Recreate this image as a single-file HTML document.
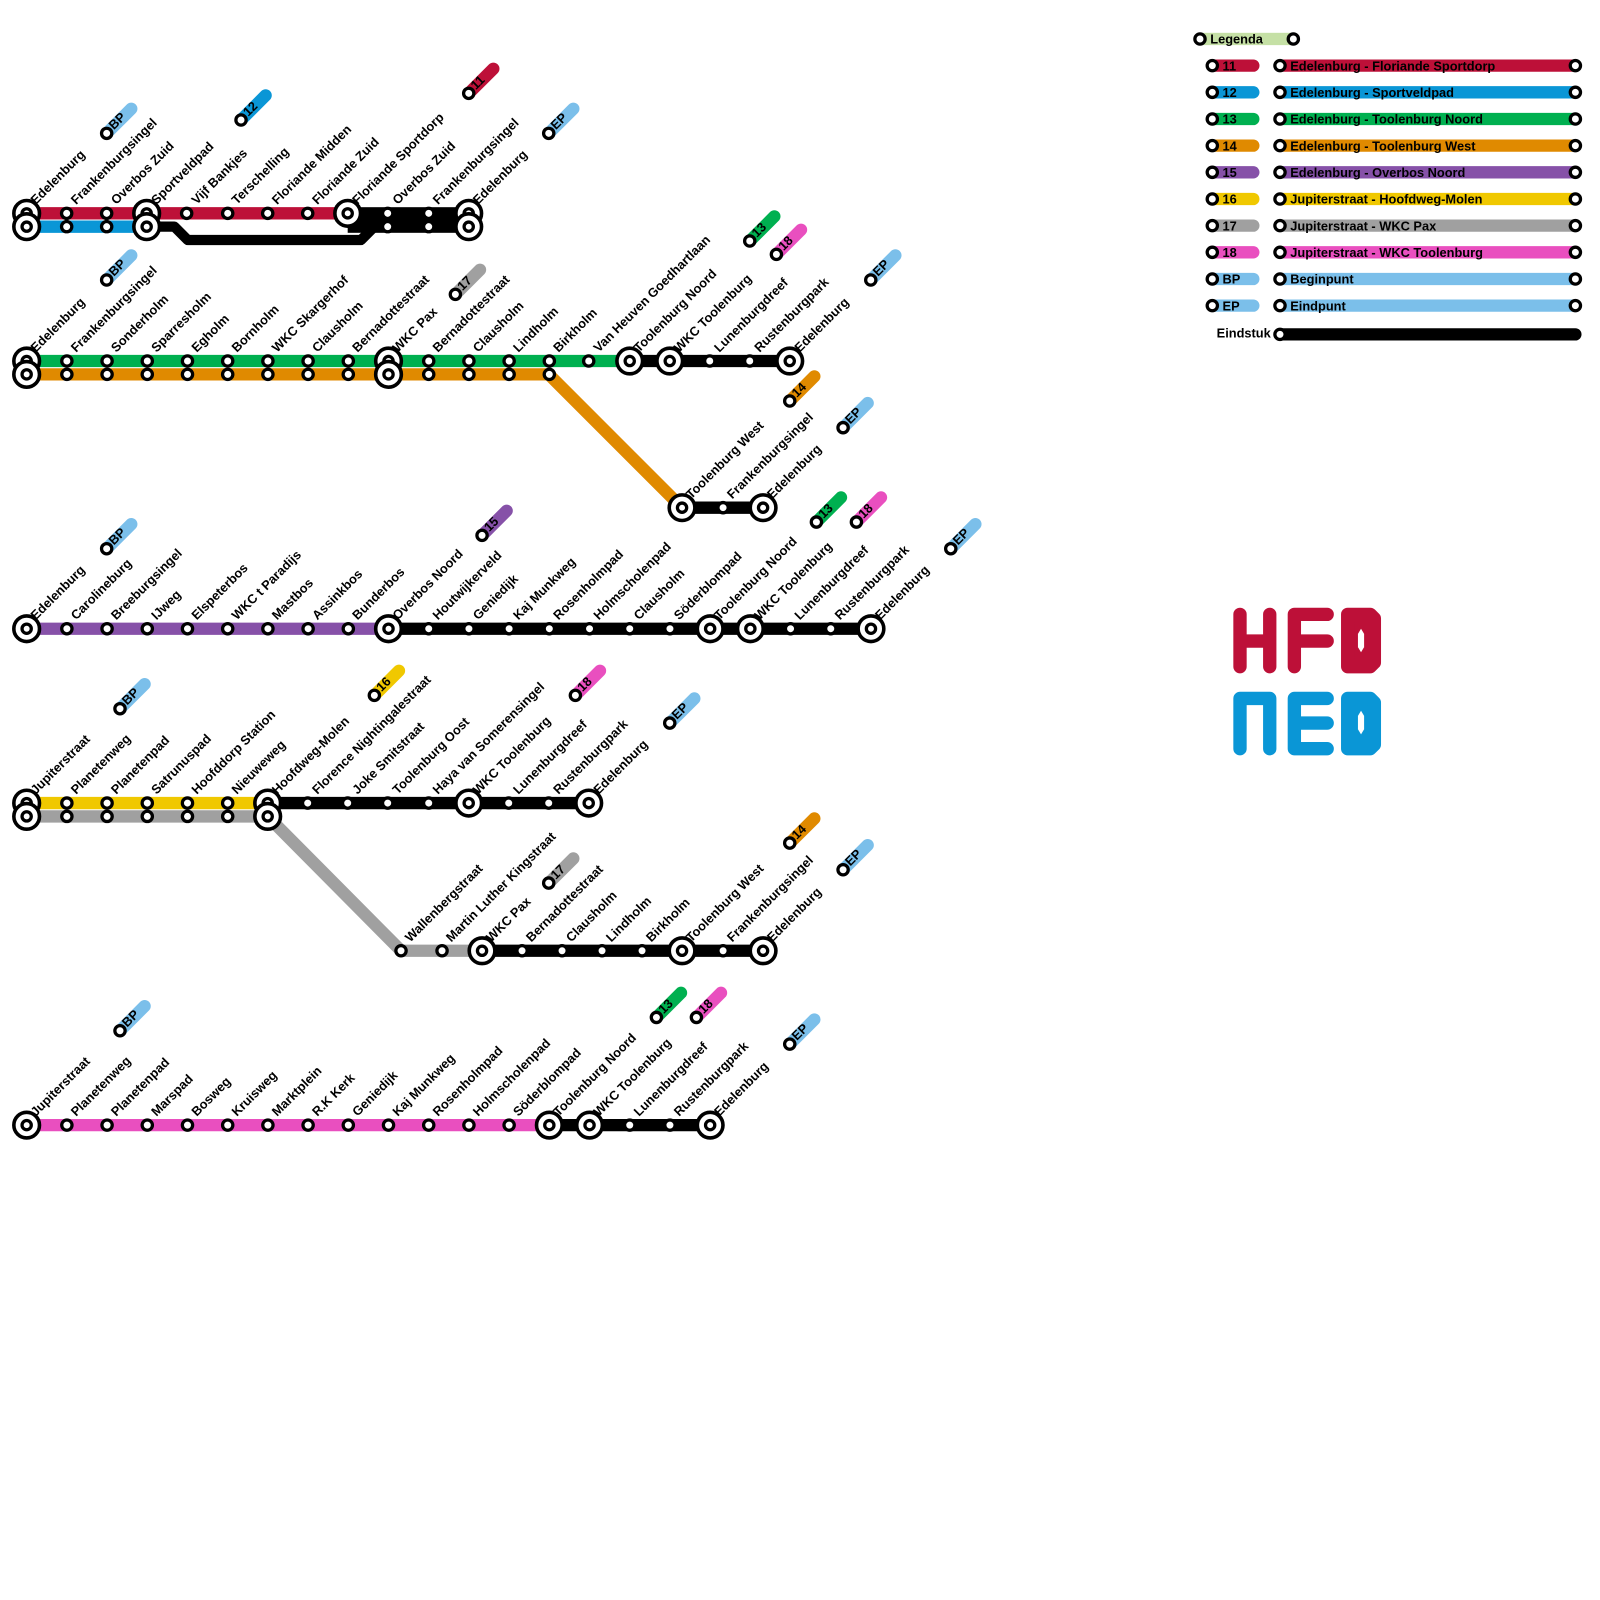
<!DOCTYPE html>
<html><head><meta charset="utf-8"><style>
html,body{margin:0;padding:0;background:#fff;width:1600px;height:1600px;overflow:hidden}
svg text{font-family:"Liberation Sans",sans-serif;font-weight:bold;font-size:12.5px;fill:#000}
</style></head><body>
<svg id="s" width="1600" height="1600" viewBox="0 0 1560 1560" xmlns="http://www.w3.org/2000/svg">
<g id="logo" transform="translate(-6,-3)">
<g stroke="#bd1038" stroke-width="13" stroke-linecap="round" stroke-linejoin="round" fill="none">
<path d="M1215 602V653M1244 602V653M1215 628H1244"/>
<path d="M1268 653V602H1300M1268 628H1300"/>
<path d="M1320 602H1342L1346 606V649L1342 653H1320Z" fill="#bd1038"/>
</g>
<path d="M1330 621l3-5 3 5v13l-3 5-3-5z" fill="#fff"/>
<g stroke="#0a96d6" stroke-width="13" stroke-linecap="round" stroke-linejoin="round" fill="none">
<path d="M1215 733V684H1244V733"/>
<path d="M1300 684H1268V733H1300M1268 708H1300"/>
<path d="M1320 684H1342L1346 688V729L1342 733H1320Z" fill="#0a96d6"/>
</g>
<path d="M1330 701l3-5 3 5v13l-3 5-3-5z" fill="#fff"/>
</g>
<g id="main"></g>
<g id="leg" transform="translate(-6,0)"></g>
</svg>
<script>
var S=document.getElementById('main'),NS='http://www.w3.org/2000/svg';
function el(t,a,txt){var e=document.createElementNS(NS,t);for(var k in a)e.setAttribute(k,a[k]);if(txt!=null)e.textContent=txt;S.appendChild(e);return e;}
var C={r:'#bd1038',b:'#0a96d6',g:'#00b050',o:'#e08a00',p:'#8651a8',y:'#f0c800',gr:'#a0a0a0',pk:'#e94fbf',lb:'#7bbfea',k:'#000',lg:'#c5e0a5'};
function X(i){return 26+39.2*i;}
function line(pts,c,w){el('polyline',{points:pts.map(function(p){return p.join(',')}).join(' '),fill:'none',stroke:C[c],'stroke-width':w||12,'stroke-linejoin':'round'});}
function sm(x,y){el('circle',{cx:x,cy:y,r:5,fill:'#fff',stroke:'#000','stroke-width':3.2});}
function ic(x,y){el('circle',{cx:x,cy:y,r:12.5,fill:'#fff',stroke:'#000','stroke-width':3.5});el('circle',{cx:x,cy:y,r:4.5,fill:'#fff',stroke:'#000','stroke-width':3.2});}
function lab(x,y,t){el('text',{x:x+9,y:y-8,transform:'rotate(-45 '+(x+9)+' '+(y-8)+')'},t);}
function tag(x,y,c,t){el('line',{x1:x,y1:y,x2:x+24,y2:y-24,stroke:C[c],'stroke-width':12,'stroke-linecap':'round'});sm(x,y);el('text',{x:x+7,y:y-3,transform:'rotate(-45 '+(x+7)+' '+(y-3)+')','font-size':'12'},t);}
// Section 1
line([[26,221],[143,221]],'b');line([[26,208],[339,208]],'r');
line([[143,221],[170,221],[183,234],[352,234],[365,221],[457,221]],'k',10);
el('rect',{x:339,y:202,width:118,height:25,fill:'#000'});
ic(26,208);ic(26,221);sm(65,208);sm(65,221);sm(104,208);sm(104,221);ic(143,208);ic(143,221);
[182,222,261,300].forEach(function(x){sm(x,208)});ic(339,208);sm(378,208);sm(378,221);sm(418,208);sm(418,221);ic(457,208);ic(457,221);
['Edelenburg','Frankenburgsingel','Overbos Zuid','Sportveldpad','Vijf Bankjes','Terschelling','Floriande Midden','Floriande Zuid','Floriande Sportdorp','Overbos Zuid','Frankenburgsingel','Edelenburg'].forEach(function(t,i){lab(X(i),208,t)});
tag(104,130,'lb','BP');tag(235,117,'b','12');tag(457,91,'r','11');tag(535,130,'lb','EP');
// Section 2
line([[26,352],[614,352]],'g');line([[614,352],[770,352]],'k');
line([[26,365],[535,365],[665,495]],'o');line([[665,495],[744,495]],'k');
ic(26,352);ic(26,365);for(var i=1;i<=13;i++){if(i==9){ic(X(i),352);ic(X(i),365);}else{sm(X(i),352);sm(X(i),365);}}
sm(574,352);ic(614,352);ic(653,352);sm(692,352);sm(731,352);ic(770,352);
['Edelenburg','Frankenburgsingel','Sonderholm','Sparresholm','Egholm','Bornholm','WKC Skargerhof','Clausholm','Bernadottestraat','WKC Pax','Bernadottestraat','Clausholm','Lindholm','Birkholm','Van Heuven Goedhartlaan','Toolenburg Noord','WKC Toolenburg','Lunenburgdreef','Rustenburgpark','Edelenburg'].forEach(function(t,i){lab(X(i),352,t)});
ic(665,495);sm(705,495);ic(744,495);lab(665,495,'Toolenburg West');lab(705,495,'Frankenburgsingel');lab(744,495,'Edelenburg');
tag(104,273,'lb','BP');tag(444,287,'gr','17');tag(731,235,'g','13');tag(757,248,'pk','18');tag(849,273,'lb','EP');tag(770,391,'o','14');tag(822,417,'lb','EP');tag(796,509,'g','13');tag(835,509,'pk','18');
// Section 3
line([[26,613],[378,613]],'p');line([[378,613],[849,613]],'k');
for(var i=0;i<=21;i++){if([0,9,17,18,21].indexOf(i)>=0)ic(X(i),613);else sm(X(i),613);}
['Edelenburg','Carolineburg','Breeburgsingel','IJweg','Elspeterbos',"WKC t Paradijs",'Mastbos','Assinkbos','Bunderbos','Overbos Noord','Houtwijkerveld','Geniedijk','Kaj Munkweg','Rosenholmpad','Holmscholenpad','Clausholm','Söderblompad','Toolenburg Noord','WKC Toolenburg','Lunenburgdreef','Rustenburgpark','Edelenburg'].forEach(function(t,i){lab(X(i),613,t)});
tag(104,535,'lb','BP');tag(470,522,'p','15');tag(927,535,'lb','EP');
// Section 4
line([[26,783],[261,783]],'y');line([[26,796],[261,796],[391,927],[470,927]],'gr');
line([[261,783],[574,783]],'k');line([[470,927],[744,927]],'k');
ic(26,783);ic(26,796);for(var i=1;i<=5;i++){sm(X(i),783);sm(X(i),796);}ic(261,783);ic(261,796);
[300,339,378,418,496,535].forEach(function(x){sm(x,783)});ic(457,783);ic(574,783);
['Jupiterstraat','Planetenweg','Planetenpad','Satrunuspad','Hoofddorp Station','Nieuweweg','Hoofdweg-Molen','Florence Nightingalestraat','Joke Smitstraat','Toolenburg Oost','Haya van Somerensingel','WKC Toolenburg','Lunenburgdreef','Rustenburgpark','Edelenburg'].forEach(function(t,i){lab(X(i),783,t)});
var L=[[391,'Wallenbergstraat',0],[431,'Martin Luther Kingstraat',0],[470,'WKC Pax',1],[509,'Bernadottestraat',0],[548,'Clausholm',0],[587,'Lindholm',0],[626,'Birkholm',0],[665,'Toolenburg West',1],[705,'Frankenburgsingel',0],[744,'Edelenburg',1]];
L.forEach(function(a){if(a[2])ic(a[0],927);else sm(a[0],927);lab(a[0],927,a[1]);});
tag(117,691,'lb','BP');tag(365,678,'y','16');tag(561,678,'pk','18');tag(653,705,'lb','EP');tag(535,861,'gr','17');tag(770,822,'o','14');tag(822,848,'lb','EP');
// Section 5
line([[26,1097],[535,1097]],'pk');line([[535,1097],[692,1097]],'k');
for(var i=0;i<=17;i++){if([0,13,14,17].indexOf(i)>=0)ic(X(i),1097);else sm(X(i),1097);}
['Jupiterstraat','Planetenweg','Planetenpad','Marspad','Bosweg','Kruisweg','Marktplein','R.K Kerk','Geniedijk','Kaj Munkweg','Rosenholmpad','Holmscholenpad','Söderblompad','Toolenburg Noord','WKC Toolenburg','Lunenburgdreef','Rustenburgpark','Edelenburg'].forEach(function(t,i){lab(X(i),1097,t)});
tag(117,1005,'lb','BP');tag(640,992,'g','13');tag(679,992,'pk','18');tag(770,1018,'lb','EP');
// Legend
S=document.getElementById('leg');
el('rect',{x:1176,y:32,width:91,height:12,fill:C.lg});sm(1176,38);sm(1267,38);el('text',{x:1186,y:42.5},'Legenda');
var R=[['r','11','Edelenburg - Floriande Sportdorp'],['b','12','Edelenburg - Sportveldpad'],['g','13','Edelenburg - Toolenburg Noord'],['o','14','Edelenburg - Toolenburg West'],['p','15','Edelenburg - Overbos Noord'],['y','16','Jupiterstraat - Hoofdweg-Molen'],['gr','17','Jupiterstraat - WKC Pax'],['pk','18','Jupiterstraat - WKC Toolenburg'],['lb','BP','Beginpunt'],['lb','EP','Eindpunt']];
R.forEach(function(r,i){var y=64+26*i;
el('line',{x1:1188,y1:y,x2:1228,y2:y,stroke:C[r[0]],'stroke-width':12,'stroke-linecap':'round'});sm(1188,y);el('text',{x:1198,y:y+4.5},r[1]);
el('line',{x1:1254,y1:y,x2:1542,y2:y,stroke:C[r[0]],'stroke-width':12});sm(1254,y);sm(1542,y);el('text',{x:1264,y:y+4.5},r[2]);});
el('line',{x1:1254,y1:326,x2:1542,y2:326,stroke:'#000','stroke-width':12,'stroke-linecap':'round'});sm(1254,326);
el('text',{x:1245,y:329,'text-anchor':'end'},'Eindstuk');
</script>
</body></html>
